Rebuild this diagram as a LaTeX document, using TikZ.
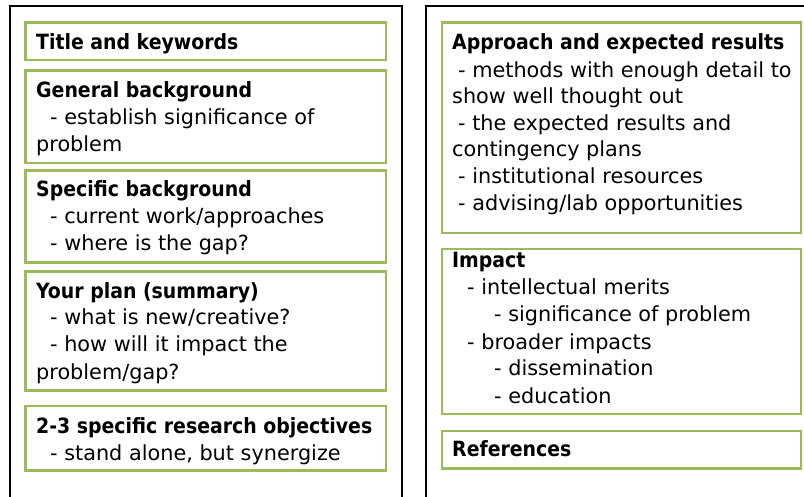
\documentclass[tikz,border=0pt]{standalone}
\usepackage{fontspec}
\setmainfont{DejaVu Sans}
\newfontfamily\hdfont{DejaVu Sans Condensed}
\definecolor{boxgreen}{RGB}{155,187,89}
\begin{document}
\begin{tikzpicture}[x=1pt,y=-1pt,
  page/.style={draw=black, line width=2pt},
  gbox/.style={draw=boxgreen, line width=2.6pt},
  txt/.style={anchor=base west, inner sep=0pt, font=\fontsize{20.8}{26}\selectfont},
  hd/.style={anchor=base west, inner sep=0pt, font=\hdfont\fontsize{21}{26}\selectfont\bfseries}]
\useasboundingbox (0,0) rectangle (804,497);
\clip (0,0) rectangle (804,497);
% pages
\draw[page] (10,510) -- (10,6) -- (402,6) -- (402,510);
\draw[page] (426,510) -- (426,6) -- (820,6);
% left boxes
\draw[gbox] (25.5,22.7) rectangle (386,60);
\draw[gbox] (25.5,70.7) rectangle (386,163);
\draw[gbox] (25.5,170.7) rectangle (386,262.7);
\draw[gbox] (25.5,271.7) rectangle (386,390.7);
\draw[gbox] (25.5,406) rectangle (386,470.7);
% right boxes
\draw[gbox] (442,22.7) rectangle (801,233);
\draw[gbox] (442,249) rectangle (801,414);
\draw[gbox] (442,431) rectangle (801,468.3);
% left texts
\node[hd] (t1) at (36,50) {Title and keywords};
\node[hd] (g0) at (36,97.3) {General background};
\node[txt] (g1) at (50,125) {- establish significance of};
\node[txt] (g2) at (36,151.7) {problem};
\node[hd] (s0) at (36,196.7) {Specific background};
\node[txt] (s1) at (50,224) {- current work/approaches};
\node[txt] (s2) at (50,250.7) {- where is the gap?};
\node[hd] (p0) at (36,298.3) {Your plan (summary)};
\node[txt] (p1) at (50,325) {- what is new/creative?};
\node[txt] (p2) at (50,351.7) {- how will it impact the};
\node[txt] (p3) at (36,379.3) {problem/gap?};
\node[hd] (o0) at (36,433.3) {2-3 specific research objectives};
\node[txt] (o1) at (50,460) {- stand alone, but synergize};
% right texts
\node[hd] (a0) at (452,50) {Approach and expected results};
\node[txt] (a1) at (458,77.3) {- methods with enough detail to};
\node[txt] (a2) at (452,104) {show well thought out};
\node[txt] (a3) at (458,130.7) {- the expected results and};
\node[txt] (a4) at (452,156.7) {contingency plans};
\node[txt] (a5) at (458,184) {- institutional resources};
\node[txt] (a6) at (458,210.7) {- advising/lab opportunities};
\node[hd] (i0) at (452,267.3) {Impact};
\node[txt] (i1) at (467,295) {- intellectual merits};
\node[txt] (i2) at (494,321.7) {- significance of problem};
\node[txt] (i3) at (467,349.3) {- broader impacts};
\node[txt] (i4) at (494,376) {- dissemination};
\node[txt] (i5) at (494,403.3) {- education};
\node[hd] (r0) at (452,456.7) {References};
\end{tikzpicture}
\end{document}
